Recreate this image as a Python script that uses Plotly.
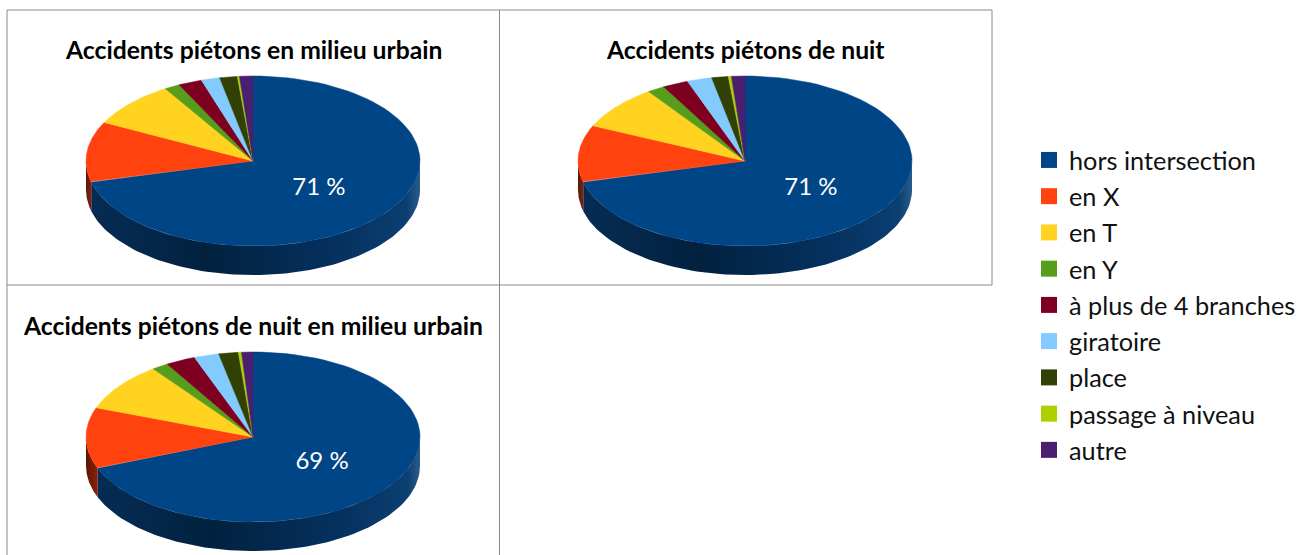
import numpy as np
import plotly.graph_objects as go

categories = ["hors intersection", "en X", "en T", "en Y", "à plus de 4 branches",
              "giratoire", "place", "passage à niveau", "autre"]
colors = ["#004586", "#ff420e", "#ffd320", "#579d1c", "#7e0021",
          "#83caff", "#314004", "#aecf00", "#4b1f6f"]
urbain = [71, 11.5, 8.7, 1.5, 2.3, 1.8, 1.7, 0.2, 1.3]
nuit = [71, 10.8, 8.4, 1.7, 2.5, 2.4, 1.6, 0.3, 1.3]
nuit_urbain = [69, 11.6, 9.2, 1.6, 2.9, 2.4, 1.9, 0.3, 1.1]
titles = ["Accidents piétons en milieu urbain", "Accidents piétons de nuit",
          "Accidents piétons de nuit en milieu urbain"]
labels = ["71 %", "71 %", "69 %"]

W, H = 1297, 555
RX, RY, DEPTH = 167, 85, 29
FONT = "Lato, Carlito, 'Open Sans', sans-serif"
panels = [
    (urbain, (7, 10, 499.5, 285), (253, 161)),
    (nuit, (499.5, 10, 992, 285), (745, 161)),
    (nuit_urbain, (7, 285, 499.5, 555), (253, 437)),
]
wall_scales = {
    0: [[0, "#062c55"], [0.35, "#02213f"], [0.75, "#05315f"], [0.96, "#0b3f72"], [1, "#2a5c8a"]],
    1: [[0, "#5c1505"], [1, "#8a2208"]],
}


def arc(a0, a1, n=90):
    t = np.radians(np.linspace(a0, a1, n))
    return np.sin(t), np.cos(t)


fig = go.Figure()
layout = {}
annotations = []
for i, (vals, box, centre) in enumerate(panels):
    L, T, R, B = box
    cx, cy = centre
    suffix = "" if i == 0 else str(i + 1)
    xa, ya = f"x{suffix}", f"y{suffix}"
    layout[f"xaxis{suffix}"] = dict(domain=[L / W, R / W], range=[(L - cx) / RX, (R - cx) / RX],
                                    visible=False, fixedrange=True)
    layout[f"yaxis{suffix}"] = dict(domain=[1 - B / H, 1 - T / H], range=[(cy - B) / RY, (cy - T) / RY],
                                    visible=False, fixedrange=True)
    edges = np.concatenate([[0], np.cumsum(vals)]) / sum(vals) * 360
    d = DEPTH / RY
    for k in (1, 0):
        a0, a1 = max(edges[k], 90), min(edges[k + 1], 270)
        if a1 <= a0:
            continue
        sx, sy = arc(a0, a1)
        fig.add_trace(go.Scatter(
            x=np.concatenate([sx, sx[::-1]]), y=np.concatenate([sy, sy[::-1] - d]),
            mode="lines", fill="toself", line=dict(width=0),
            fillcolor=colors[k],
            fillgradient=dict(type="horizontal", colorscale=wall_scales[k]),
            hoverinfo="skip", showlegend=False, xaxis=xa, yaxis=ya))
    for k, v in enumerate(vals):
        sx, sy = arc(edges[k], edges[k + 1])
        fig.add_trace(go.Scatter(
            x=np.concatenate([[0], sx, [0]]), y=np.concatenate([[0], sy, [0]]),
            mode="lines", fill="toself", fillcolor=colors[k],
            line=dict(width=0.5, color=colors[k]),
            name=categories[k], text=f"{categories[k]}: {v} %", hoverinfo="text",
            showlegend=False, xaxis=xa, yaxis=ya))
    mid = np.radians((edges[0] + edges[1]) / 2)
    fig.add_trace(go.Scatter(
        x=[0.5 * np.sin(mid)], y=[0.5 * np.cos(mid) - 2 / RY], mode="text", text=[labels[i]],
        textposition="middle center", textfont=dict(family=FONT, size=24, color="white"),
        hoverinfo="skip", showlegend=False, xaxis=xa, yaxis=ya))
    annotations.append(dict(
        text=f"<b>{titles[i]}</b>", xref=f"{xa} domain", yref="paper", x=(cx - L) / (R - L),
        y=1 - (T + 40) / H, xanchor="center", yanchor="middle", showarrow=False,
        font=dict(family=FONT, size=24.7, color="black")))

for k, name in enumerate(categories):
    fig.add_trace(go.Scatter(
        x=[None], y=[None], mode="markers", name=name, legendgroup=name,
        marker=dict(symbol="square", size=16, color=colors[k]), xaxis="x", yaxis="y"))

border = dict(color="#8a8a8a", width=1)
segments = [(7, 10, 992, 10), (7, 285, 992, 285), (7, 10, 7, 555), (499.5, 10, 499.5, 555), (992, 10, 992, 285)]
shapes = [dict(type="line", xref="paper", yref="paper", x0=a / W, x1=c / W, y0=1 - b / H, y1=1 - d / H, line=border)
          for a, b, c, d in segments]

fig.update_layout(
    width=W, height=H, margin=dict(l=0, r=0, t=0, b=0, autoexpand=False), paper_bgcolor="white",
    plot_bgcolor="rgba(0,0,0,0)", shapes=shapes, annotations=annotations,
    legend=dict(x=1029 / W, y=1 - 137 / H, xanchor="left", yanchor="top", font=dict(family=FONT, size=25.3, color="#111111"),
                tracegroupgap=0.35, bgcolor="rgba(0,0,0,0)", itemclick=False, itemdoubleclick=False),
    **layout)
fig.write_html("out.html", config={"displayModeBar": False},
               post_script="document.body.style.margin='0';document.body.style.overflow='hidden';")
